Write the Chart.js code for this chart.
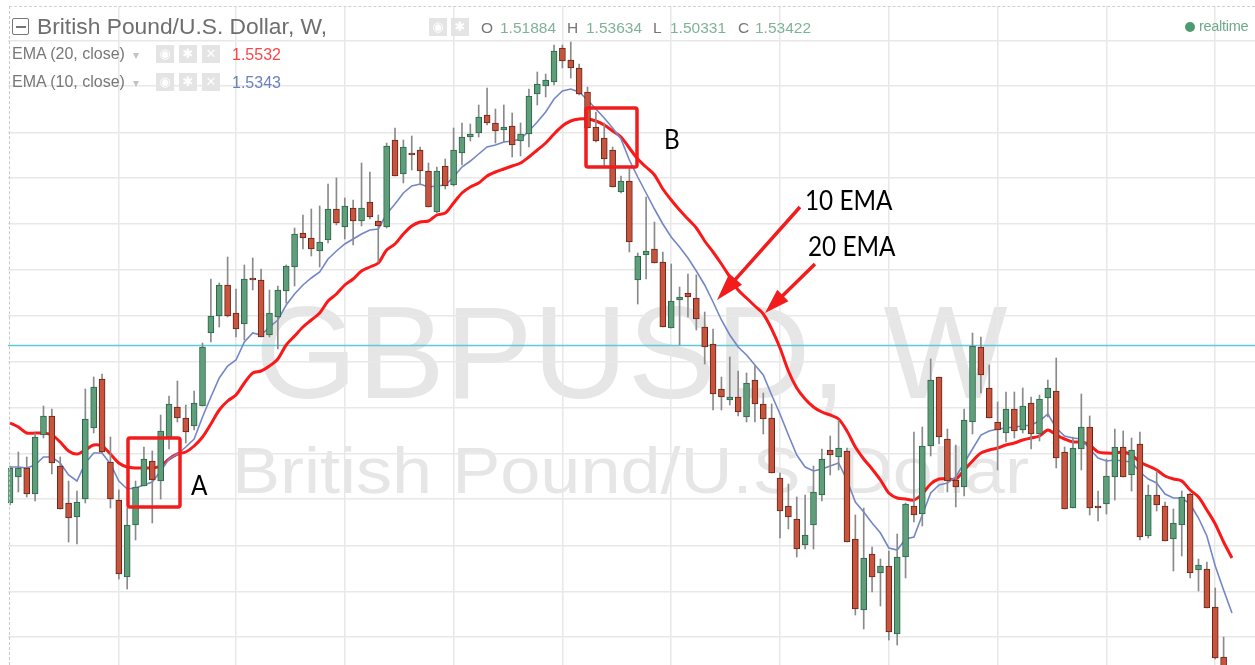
<!DOCTYPE html>
<html><head><meta charset="utf-8">
<style>
html,body{margin:0;padding:0;background:#fff;width:1255px;height:665px;overflow:hidden;font-family:"Liberation Sans",Arial,sans-serif}
#stage{position:relative;width:1255px;height:665px;overflow:hidden;filter:blur(.4px)}
#stage>*{position:absolute}
canvas{left:0;top:0;z-index:1}
.t{white-space:nowrap;z-index:2;line-height:1}
.wm{color:#e6e6e6;z-index:0;white-space:nowrap;line-height:1}
.ic{width:18px;height:18px;background:#e4e4e4;color:#fff;font:bold 13px/18px "DejaVu Sans";text-align:center;z-index:2}
.note{font-family:Lato,sans-serif;color:#000;z-index:3;white-space:nowrap;line-height:1;transform:scaleX(.9);transform-origin:0 0}
</style></head><body>
<div id="stage">
<div class="wm" style="left:255px;top:287px;font-size:131.5px">GBPUSD, W</div>
<div class="wm" style="left:232px;top:437.6px;font-size:65.5px;transform:scaleX(1.1);transform-origin:0 0">British Pound/U.S. Dollar</div>
<canvas id="c" width="1255" height="665"></canvas>
<div class="t" style="left:9px;top:6px;width:1246px;height:0;border-top:1px dashed #d0d0d0"></div>
<div class="t" style="left:9px;top:6px;width:0;height:659px;border-left:1px dashed #c8c8c8"></div>
<div class="t" style="left:12px;top:18px;width:15px;height:15px;border:1.5px solid #777;border-radius:2px"></div>
<div class="t" style="left:16px;top:26px;width:10px;height:1.5px;background:#777"></div>
<div class="t" style="left:37px;top:15px;font-size:22.8px;color:#6e6e6e">British Pound/U.S. Dollar, W,</div>
<div class="t" style="left:12px;top:46px;font-size:16px;color:#777">EMA (20, close)</div>
<div class="t" style="left:133px;top:49px;font-size:12px;color:#c4c4c4">▾</div>
<div class="ic" style="left:156px;top:45px">◉</div><div class="ic" style="left:179px;top:45px">✱</div><div class="ic" style="left:202px;top:45px">✕</div>
<div class="t" style="left:232px;top:47px;font-size:16px;color:#f8474a">1.5532</div>
<div class="t" style="left:12px;top:74px;font-size:16px;color:#777">EMA (10, close)</div>
<div class="t" style="left:133px;top:77px;font-size:12px;color:#c4c4c4">▾</div>
<div class="ic" style="left:156px;top:73px">◉</div><div class="ic" style="left:179px;top:73px">✱</div><div class="ic" style="left:202px;top:73px">✕</div>
<div class="t" style="left:232px;top:75px;font-size:16px;color:#6b80c0">1.5343</div>
<div class="ic" style="left:429px;top:18px">◉</div><div class="ic" style="left:451px;top:18px">✱</div>
<div class="t" style="left:481px;top:20px;font-size:15.5px;color:#777">O</div>
<div class="t" style="left:500px;top:20px;font-size:15.5px;color:#7fb396">1.51884</div>
<div class="t" style="left:567px;top:20px;font-size:15.5px;color:#777">H</div>
<div class="t" style="left:586px;top:20px;font-size:15.5px;color:#7fb396">1.53634</div>
<div class="t" style="left:653px;top:20px;font-size:15.5px;color:#777">L</div>
<div class="t" style="left:670px;top:20px;font-size:15.5px;color:#7fb396">1.50331</div>
<div class="t" style="left:738px;top:20px;font-size:15.5px;color:#777">C</div>
<div class="t" style="left:755px;top:20px;font-size:15.5px;color:#7fb396">1.53422</div>
<div class="t" style="left:1185px;top:22px;width:10px;height:10px;border-radius:50%;background:#4b9a70"></div>
<div class="t" style="left:1199px;top:19px;font-size:14.5px;letter-spacing:-.3px;color:#6fa98a">realtime</div>
<div class="note" style="left:191px;top:471px;font-size:27px">A</div>
<div class="note" style="left:664px;top:125px;font-size:27px">B</div>
<div class="note" style="left:805px;top:186px;font-size:27px">10 EMA</div>
<div class="note" style="left:808px;top:232px;font-size:27px">20 EMA</div>
</div>
<script src="https://cdn.jsdelivr.net/npm/chart.js@4"></script>
<script>
const opens=[1.5197,1.5223,1.5232,1.5206,1.5265,1.5284,1.5234,1.5197,1.5183,1.5201,
1.5272,1.5321,1.5238,1.5200,1.5123,1.5175,1.5214,1.5239,1.5219,1.5263,
1.5293,1.5282,1.5274,1.5294,1.5367,1.5384,1.5415,1.5387,1.5376,1.5422,
1.5420,1.5365,1.5383,1.5409,1.5433,1.5467,1.5462,1.5449,1.5460,1.5491,
1.5473,1.5492,1.5479,1.5498,1.5479,1.5473,1.5560,1.5526,1.5547,1.5550,
1.5529,1.5488,1.5534,1.5515,1.5547,1.5563,1.5567,1.5585,1.5577,1.5570,
1.5574,1.5559,1.5566,1.5606,1.5614,1.5618,1.5652,1.5640,1.5632,1.5608,
1.5573,1.5562,1.5550,1.5508,1.5519,1.5420,1.5445,1.5451,1.5438,1.5372,
1.5400,1.5407,1.5402,1.5373,1.5356,1.5311,1.5300,1.5303,1.5283,1.5320,
1.5296,1.5282,1.5222,1.5194,1.5181,1.5155,1.5175,1.5205,1.5250,1.5243,
1.5249,1.5161,1.5090,1.5146,1.5127,1.5134,1.5066,1.5143,1.5194,1.5186,
1.5254,1.5323,1.5261,1.5220,1.5213,1.5278,1.5353,1.5312,1.5278,1.5267,
1.5291,1.5270,1.5297,1.5266,1.5302,1.5309,1.5248,1.5192,1.5251,1.5273,
1.5194,1.5196,1.5223,1.5253,1.5225,1.5256,1.5164,1.5205,1.5194,1.5161,
1.5175,1.5206,1.5130,1.5131,1.5093,1.5043];
const closes=[1.5232,1.5232,1.5206,1.5263,1.5284,1.5237,1.5191,1.5182,1.5198,1.5281,
1.5313,1.5248,1.5201,1.5126,1.5175,1.5213,1.5241,1.5220,1.5269,1.5296,
1.5282,1.5268,1.5297,1.5353,1.5384,1.5415,1.5384,1.5371,1.5421,1.5420,
1.5363,1.5387,1.5410,1.5434,1.5466,1.5462,1.5451,1.5458,1.5491,1.5477,
1.5494,1.5479,1.5492,1.5483,1.5474,1.5554,1.5524,1.5553,1.5545,1.5529,
1.5493,1.5529,1.5514,1.5550,1.5563,1.5566,1.5583,1.5577,1.5569,1.5573,
1.5555,1.5566,1.5604,1.5616,1.5620,1.5649,1.5639,1.5632,1.5606,1.5572,
1.5559,1.5541,1.5513,1.5519,1.5458,1.5444,1.5449,1.5437,1.5373,1.5399,
1.5403,1.5403,1.5381,1.5353,1.5306,1.5303,1.5303,1.5288,1.5317,1.5296,
1.5281,1.5227,1.5189,1.5183,1.5151,1.5165,1.5208,1.5241,1.5245,1.5252,
1.5158,1.5091,1.5142,1.5123,1.5134,1.5068,1.5143,1.5196,1.5185,1.5254,
1.5320,1.5263,1.5219,1.5213,1.5280,1.5354,1.5325,1.5282,1.5270,1.5291,
1.5269,1.5294,1.5266,1.5301,1.5312,1.5242,1.5191,1.5252,1.5273,1.5192,
1.5192,1.5224,1.5253,1.5223,1.5250,1.5163,1.5205,1.5195,1.5159,1.5177,
1.5203,1.5127,1.5135,1.5092,1.5042,1.5032];
const highs=[1.5234,1.5248,1.5243,1.5267,1.5294,1.5291,1.5243,1.5219,1.5209,1.5311,
1.5323,1.5326,1.5263,1.5210,1.5192,1.5219,1.5253,1.5249,1.5285,1.5304,
1.5319,1.5295,1.5309,1.5357,1.5421,1.5417,1.5443,1.5411,1.5435,1.5442,
1.5431,1.5410,1.5414,1.5435,1.5472,1.5485,1.5491,1.5494,1.5516,1.5522,
1.5502,1.5500,1.5537,1.5528,1.5485,1.5557,1.5572,1.5560,1.5564,1.5553,
1.5537,1.5533,1.5541,1.5572,1.5577,1.5576,1.5595,1.5612,1.5591,1.5595,
1.5587,1.5577,1.5611,1.5628,1.5626,1.5655,1.5655,1.5658,1.5636,1.5613,
1.5588,1.5577,1.5553,1.5524,1.5532,1.5447,1.5503,1.5478,1.5448,1.5436,
1.5413,1.5426,1.5425,1.5388,1.5371,1.5323,1.5343,1.5329,1.5327,1.5334,
1.5307,1.5296,1.5227,1.5216,1.5203,1.5205,1.5234,1.5251,1.5264,1.5280,
1.5252,1.5185,1.5192,1.5153,1.5141,1.5149,1.5166,1.5197,1.5268,1.5273,
1.5341,1.5323,1.5271,1.5255,1.5291,1.5367,1.5363,1.5335,1.5298,1.5308,
1.5308,1.5312,1.5303,1.5305,1.5320,1.5342,1.5253,1.5263,1.5306,1.5284,
1.5209,1.5241,1.5271,1.5269,1.5262,1.5268,1.5215,1.5229,1.5198,1.5191,
1.5209,1.5207,1.5141,1.5138,1.5112,1.5063];
const lows=[1.5195,1.5208,1.5203,1.5199,1.5262,1.5226,1.5191,1.5158,1.5156,1.5197,
1.5267,1.5247,1.5192,1.5121,1.5111,1.5160,1.5214,1.5177,1.5201,1.5251,
1.5278,1.5257,1.5270,1.5294,1.5358,1.5373,1.5383,1.5363,1.5360,1.5410,
1.5363,1.5363,1.5351,1.5397,1.5414,1.5451,1.5444,1.5433,1.5457,1.5475,
1.5461,1.5455,1.5474,1.5481,1.5438,1.5472,1.5524,1.5517,1.5530,1.5515,
1.5493,1.5487,1.5511,1.5514,1.5535,1.5559,1.5563,1.5575,1.5557,1.5558,
1.5543,1.5544,1.5553,1.5595,1.5603,1.5615,1.5632,1.5622,1.5605,1.5572,
1.5558,1.5534,1.5513,1.5507,1.5448,1.5396,1.5421,1.5437,1.5373,1.5372,
1.5355,1.5383,1.5370,1.5336,1.5290,1.5290,1.5295,1.5284,1.5278,1.5278,
1.5266,1.5227,1.5162,1.5171,1.5143,1.5151,1.5151,1.5199,1.5225,1.5230,
1.5158,1.5085,1.5071,1.5108,1.5094,1.5060,1.5055,1.5122,1.5178,1.5174,
1.5244,1.5256,1.5208,1.5193,1.5204,1.5266,1.5307,1.5282,1.5230,1.5258,
1.5262,1.5267,1.5251,1.5259,1.5283,1.5232,1.5191,1.5192,1.5230,1.5185,
1.5179,1.5186,1.5200,1.5223,1.5209,1.5160,1.5162,1.5189,1.5159,1.5129,
1.5144,1.5122,1.5109,1.5092,1.5041,1.5028];
const ema10=[1.5233,1.5233,1.5232,1.5235,1.5243,1.5243,1.5237,1.5225,1.5219,1.5237,
1.5247,1.5247,1.5236,1.5219,1.5211,1.5212,1.5215,1.5218,1.5229,1.5241,
1.5246,1.5253,1.5261,1.5283,1.5303,1.5322,1.5334,1.5340,1.5358,1.5367,
1.5365,1.5373,1.5380,1.5395,1.5406,1.5415,1.5422,1.5428,1.5441,1.5449,
1.5456,1.5461,1.5466,1.5470,1.5471,1.5486,1.5496,1.5507,1.5514,1.5516,
1.5513,1.5514,1.5515,1.5523,1.5533,1.5539,1.5546,1.5553,1.5555,1.5558,
1.5559,1.5561,1.5569,1.5578,1.5588,1.5601,1.5609,1.5611,1.5608,1.5600,
1.5591,1.5582,1.5572,1.5561,1.5540,1.5523,1.5507,1.5491,1.5476,1.5463,
1.5453,1.5442,1.5429,1.5415,1.5398,1.5380,1.5365,1.5353,1.5345,1.5335,
1.5325,1.5305,1.5286,1.5265,1.5245,1.5233,1.5229,1.5231,1.5234,1.5237,
1.5220,1.5198,1.5188,1.5177,1.5167,1.5152,1.5150,1.5161,1.5163,1.5185,
1.5207,1.5215,1.5217,1.5223,1.5237,1.5251,1.5265,1.5269,1.5271,1.5272,
1.5273,1.5274,1.5275,1.5279,1.5286,1.5272,1.5264,1.5262,1.5261,1.5251,
1.5242,1.5239,1.5240,1.5239,1.5238,1.5228,1.5221,1.5217,1.5206,1.5202,
1.5202,1.5196,1.5182,1.5164,1.5134,1.5110,1.5087];
const ema20=[1.5277,1.5273,1.5267,1.5267,1.5267,1.5265,1.5258,1.5249,1.5246,1.5250,
1.5255,1.5254,1.5246,1.5237,1.5233,1.5232,1.5232,1.5232,1.5234,1.5241,
1.5246,1.5248,1.5254,1.5263,1.5276,1.5290,1.5299,1.5305,1.5317,1.5327,
1.5329,1.5334,1.5341,1.5355,1.5364,1.5373,1.5380,1.5387,1.5399,1.5406,
1.5415,1.5421,1.5429,1.5433,1.5437,1.5450,1.5456,1.5466,1.5474,1.5478,
1.5479,1.5485,1.5487,1.5497,1.5507,1.5513,1.5517,1.5524,1.5528,1.5531,
1.5534,1.5537,1.5543,1.5550,1.5557,1.5566,1.5574,1.5579,1.5581,1.5581,
1.5579,1.5575,1.5569,1.5563,1.5552,1.5541,1.5533,1.5525,1.5511,1.5500,
1.5490,1.5481,1.5472,1.5459,1.5448,1.5436,1.5423,1.5410,1.5402,1.5394,
1.5386,1.5371,1.5352,1.5329,1.5312,1.5301,1.5293,1.5288,1.5285,1.5281,
1.5269,1.5253,1.5241,1.5231,1.5220,1.5207,1.5202,1.5201,1.5200,1.5206,
1.5216,1.5221,1.5221,1.5221,1.5230,1.5239,1.5247,1.5250,1.5252,1.5255,
1.5257,1.5260,1.5262,1.5264,1.5270,1.5265,1.5261,1.5258,1.5258,1.5255,
1.5248,1.5247,1.5247,1.5248,1.5245,1.5238,1.5234,1.5230,1.5224,1.5221,
1.5219,1.5210,1.5203,1.5190,1.5176,1.5158,1.5142];
const xGridBars=[13,27,40,53,66,79,92,105,118,131,144];
const yGridPrices=[1.5659,1.5614,1.5567,1.5522,1.5476,1.5430,1.5384,1.5338,1.5292,1.52465,1.5201,1.51545,1.51085,1.5063];
const lastPrice=1.53545;

const GREEN='#5f9e7b',GREEN_E='#2b6446',RED='#c9543d',RED_E='#642418';
const up=opens.map((o,i)=>closes[i]>=o);
const GRID='#e8e8e8';

const overlay={id:'overlay',afterDatasetsDraw(ch){
  const c=ch.ctx;c.save();
  c.strokeStyle='#f21c1c';c.lineWidth=3.5;c.lineJoin='round';
  [[128,438,52,69],[586,108,51,59]].forEach(r=>{c.beginPath();c.roundRect(r[0],r[1],r[2],r[3],2);c.stroke();});
  c.fillStyle='#f21c1c';
  const arrow=(x0,y0,x1,y1,w,hl,hw)=>{
    const a=Math.atan2(y1-y0,x1-x0),ux=Math.cos(a),uy=Math.sin(a),nx=-uy,ny=ux;
    const bx=x1-ux*hl,by=y1-uy*hl;
    c.beginPath();c.moveTo(x0+nx*w/2,y0+ny*w/2);c.lineTo(bx+nx*w/2,by+ny*w/2);
    c.lineTo(bx+nx*hw/2,by+ny*hw/2);c.lineTo(x1,y1);c.lineTo(bx-nx*hw/2,by-ny*hw/2);
    c.lineTo(bx-nx*w/2,by-ny*w/2);c.lineTo(x0-nx*w/2,y0-ny*w/2);c.closePath();c.fill();};
  arrow(800,207,717,300,3.5,28,17);
  arrow(815,264,765,313,3.5,25,16);
  c.restore();
}};

new Chart(document.getElementById('c'),{
  type:'bar',
  data:{datasets:[
    {type:'bar',label:'Body',order:1,grouped:false,barThickness:6,borderWidth:1,borderSkipped:false,
     data:opens.map((o,i)=>({x:i,y:[o,closes[i]]})),
     backgroundColor:up.map(u=>u?GREEN:RED),borderColor:up.map(u=>u?GREEN_E:RED_E)},
    {type:'bar',label:'Wick',order:2,grouped:false,barThickness:1,borderWidth:0,
     data:highs.map((h,i)=>({x:i,y:[lows[i],h]})),backgroundColor:'#8a8a8a'},
    {type:'line',label:'EMA (10, close)',order:3,data:ema10.map((v,i)=>({x:i,y:v})),
     borderColor:'#7387c6',borderWidth:1.6,pointRadius:0,tension:0},
    {type:'line',label:'EMA (20, close)',order:4,data:ema20.map((v,i)=>({x:i,y:v})),
     borderColor:'#fb1818',borderWidth:3,pointRadius:0,tension:0.3},
    {type:'line',label:'Last price',order:5,data:[{x:-0.239,y:lastPrice},{x:148.75,y:lastPrice}],
     borderColor:'#5ecad6',borderWidth:1.5,pointRadius:0}
  ]},
  options:{
    responsive:false,animation:false,devicePixelRatio:1,
    layout:{padding:{left:8,top:6,right:0,bottom:0}},
    plugins:{legend:{display:false},tooltip:{enabled:false}},
    scales:{
      x:{type:'linear',offset:false,min:-0.239,max:148.75,
         afterBuildTicks(a){a.ticks=xGridBars.map(v=>({value:v}));},
         ticks:{display:false},border:{display:false},
         grid:{color:GRID,lineWidth:1.5,drawTicks:false,offset:false}},
      y:{type:'linear',min:1.5035,max:1.5694,
         afterBuildTicks(a){a.ticks=yGridPrices.map(v=>({value:v}));},
         ticks:{display:false},border:{display:false},
         grid:{color:GRID,lineWidth:1.5,drawTicks:false}}
    }
  },
  plugins:[overlay]
});
</script>
</body></html>
